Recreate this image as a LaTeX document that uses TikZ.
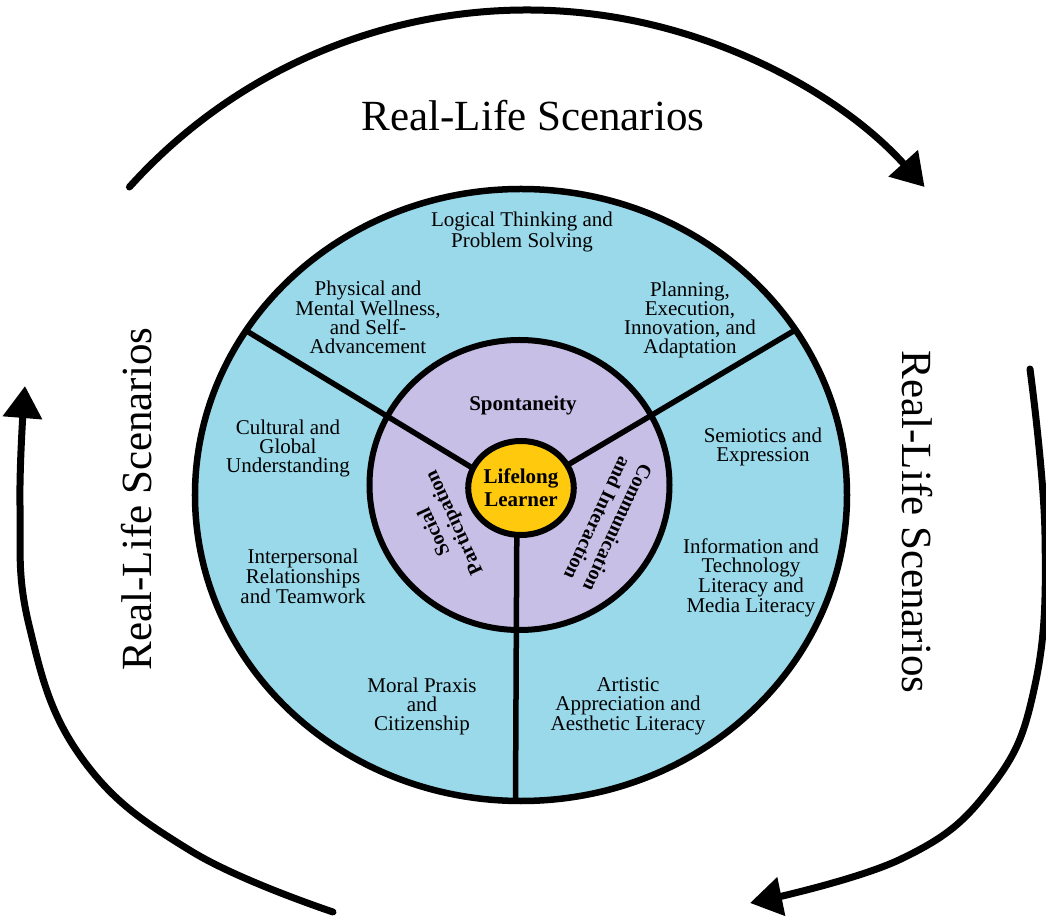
\documentclass[tikz,border=0pt]{standalone}
\usepackage{fontspec}
\setmainfont{Liberation Serif}
\usetikzlibrary{arrows.meta,shapes.geometric}
\definecolor{sky}{HTML}{99D9EA}
\definecolor{lilac}{HTML}{C8BFE7}
\definecolor{gold}{HTML}{FFC90E}
\tikzset{
  ring/.style={draw=black, line width=6.5pt},
  spoke/.style={draw=black, line width=5.5pt},
  cyc/.style={draw=black, line width=7pt, line cap=round, -{Triangle[length=32pt,width=38pt]}},
  lab/.style={align=center, inner sep=0pt, font=\fontsize{21}{19}\selectfont},
  labb/.style={align=center, inner sep=0pt, font=\fontsize{21}{23}\selectfont\bfseries},
  big/.style={inner sep=0pt, font=\fontsize{43}{50}\selectfont},
}
\begin{document}
\begin{tikzpicture}[x=1pt,y=1pt]
  \useasboundingbox (-521,-422) rectangle (525,495);
  % wheel
  \draw[ring, fill=sky] (0,0) ellipse [x radius=326, y radius=306];
  \draw[ring, line width=6pt, fill=lilac] (-1.5,10) ellipse [x radius=150, y radius=145];
  \coordinate (hub) at (-4,0);
  \coordinate (ul) at (-276,165);
  \coordinate (ur) at (276,166);
  \coordinate (dn) at (-5.5,-306);
  \draw[spoke] (hub) -- (ul) (hub) -- (ur) (hub) -- (dn);
  \node[ellipse, draw=black, line width=6pt, fill=gold, minimum width=102pt,
    minimum height=94pt, labb] (learner) at (0,7) {Lifelong\\Learner};

  % inner ring
  \node[labb] (spont) at (2,90) {Spontaneity};
  \node[labb, font=\fontsize{20}{22}\selectfont\bfseries, rotate=115] (social) at (-76,-32) {Social\\Participation};
  \node[labb, font=\fontsize{20}{22}\selectfont\bfseries, rotate=-115] (comm) at (87,-28) {Communication\\and Interaction};

  % outer ring
  \node[lab] (logic) at (1,263) {Logical Thinking and\\Problem Solving};
  \node[lab] (phys) at (-153,178) {Physical and\\Mental Wellness,\\and Self-\\Advancement};
  \node[lab] (plan) at (169,175) {Planning,\\Execution,\\Innovation, and\\Adaptation};
  \node[lab] (cult) at (-233,47) {Cultural and\\Global\\Understanding};
  \node[lab] (semi) at (242,48) {Semiotics and\\Expression};
  \node[lab] (inter) at (-218,-81) {Interpersonal\\Relationships\\and Teamwork};
  \node[lab] (info) at (230,-83) {Information and\\Technology\\Literacy and\\Media Literacy};
  \node[lab] (moral) at (-99,-211) {Moral Praxis\\and\\Citizenship};
  \node[lab] (art) at (107,-211) {Artistic\\Appreciation and\\Aesthetic Literacy};

  % real-life cycle
  \draw[cyc] (6,-50) ++(138:535) arc[start angle=138, end angle=42, radius=535];
  \draw[cyc] plot[smooth, tension=0.7] coordinates {(509,126) (524,-40) (514,-190)
    (470,-292) (380,-364) (229,-408)};
  \draw[cyc] plot[smooth, tension=0.7] coordinates {(-188,-417) (-330,-356)
    (-440,-262) (-492,-130) (-501,-10) (-496,109)};
  \node[big] (rlsT) at (12,379) {Real-Life Scenarios};
  \node[big, rotate=90] (rlsL) at (-384,-4) {Real-Life Scenarios};
  \node[big, rotate=-90] (rlsR) at (396,-27) {Real-Life Scenarios};
\end{tikzpicture}
\end{document}
